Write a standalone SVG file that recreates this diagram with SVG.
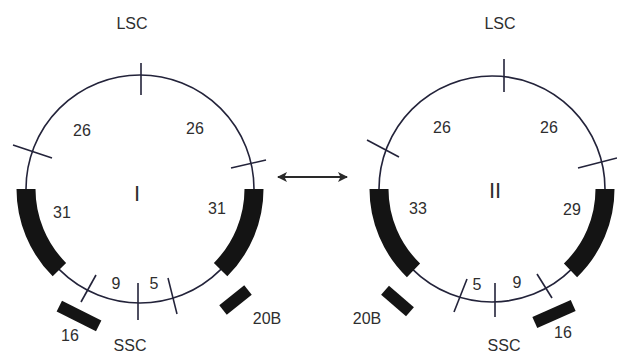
<svg xmlns="http://www.w3.org/2000/svg" width="617" height="355" viewBox="0 0 617 355">
<style>
.ring{fill:none;stroke:#23233a;stroke-width:1.6}
.tick{stroke:#23233a;stroke-width:1.6;fill:none}
.blk{fill:none;stroke:#141414;stroke-width:19;stroke-linecap:butt}
.bar{fill:#141414}
text{font-family:"Liberation Sans",Arial,sans-serif;font-size:16px;fill:#2e2e2e;text-anchor:middle}
.rn{font-size:22px}
</style>
<defs>
<marker id="ah" viewBox="0 0 10 10" refX="9" refY="5" markerWidth="12" markerHeight="10" markerUnits="userSpaceOnUse" orient="auto-start-reverse">
<path d="M0,0 L10,5 L0,10 L2.5,5 Z" fill="#2a2a2a"/>
</marker>
</defs>
<rect width="617" height="355" fill="#ffffff"/>
<g id="genome-I">
<circle class="ring" cx="140" cy="189" r="114"/>
<path class="blk" d="M26,189 A114,114 0 0 0 59.4,269.6"/>
<path class="blk" d="M254,189 A114,114 0 0 1 220.6,269.6"/>
<line class="tick" x1="141" y1="63" x2="141" y2="95"/>
<line class="tick" x1="13" y1="145" x2="52" y2="158"/>
<line class="tick" x1="231" y1="168" x2="266" y2="160"/>
<line class="tick" x1="96" y1="275" x2="81" y2="302"/>
<line class="tick" x1="138" y1="283" x2="138" y2="320"/>
<line class="tick" x1="168" y1="278" x2="177" y2="314"/>
<rect class="bar" x="-22" y="-6" width="44" height="12" transform="translate(79,316) rotate(26.6)"/>
<rect class="bar" x="-16" y="-6" width="32" height="12" transform="translate(235.5,300) rotate(-38.7)"/>
<text x="132" y="29">LSC</text>
<text x="82" y="136">26</text>
<text x="195" y="134">26</text>
<text class="rn" x="137" y="201">I</text>
<text x="62" y="218">31</text>
<text x="217" y="214">31</text>
<text x="116" y="289">9</text>
<text x="154" y="289">5</text>
<text x="70" y="341">16</text>
<text x="130" y="351">SSC</text>
<text x="267" y="324">20B</text>
</g>
<g id="genome-II">
<circle class="ring" cx="492" cy="189" r="113"/>
<path class="blk" d="M379,189 A113,113 0 0 0 413.5,270.3"/>
<path class="blk" d="M605,189 A113,113 0 0 1 570.5,270.3"/>
<line class="tick" x1="504" y1="59" x2="504" y2="92"/>
<line class="tick" x1="367" y1="140" x2="399" y2="157"/>
<line class="tick" x1="578" y1="168" x2="617" y2="158"/>
<line class="tick" x1="467" y1="279" x2="454" y2="312"/>
<line class="tick" x1="495" y1="283" x2="495" y2="317"/>
<line class="tick" x1="537" y1="274" x2="552" y2="298"/>
<rect class="bar" x="-16.5" y="-6" width="33" height="12" transform="translate(397.5,301) rotate(41)"/>
<rect class="bar" x="-21" y="-6" width="42" height="12" transform="translate(554,314) rotate(-24)"/>
<text x="500" y="29">LSC</text>
<text x="442" y="133">26</text>
<text x="549" y="133">26</text>
<text class="rn" x="495" y="198">II</text>
<text x="418" y="214">33</text>
<text x="572" y="215">29</text>
<text x="477" y="290">5</text>
<text x="517" y="288">9</text>
<text x="367" y="324">20B</text>
<text x="563" y="338">16</text>
<text x="504" y="351">SSC</text>
</g>
<g id="connectors">
<line x1="278" y1="177" x2="347" y2="177" stroke="#2a2a2a" stroke-width="2" marker-start="url(#ah)" marker-end="url(#ah)"/>
</g>
</svg>
